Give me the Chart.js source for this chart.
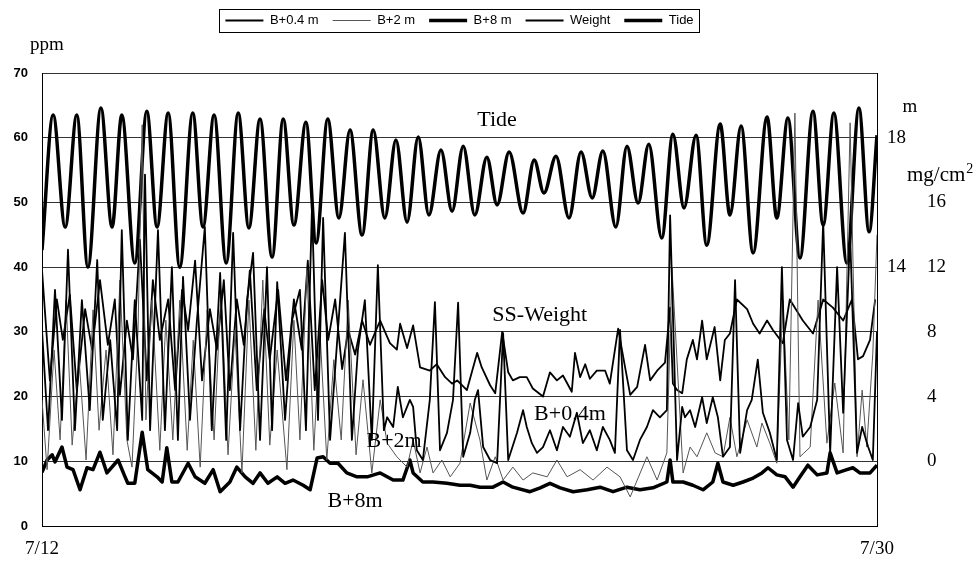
<!DOCTYPE html>
<html>
<head>
<meta charset="utf-8">
<script src="https://cdn.jsdelivr.net/npm/chart.js@4.4.1/dist/chart.umd.min.js"></script>
<style>
  html, body { margin: 0; padding: 0; background: #fff; }
</style>
</head>
<body>
<canvas id="chart" width="980" height="565"></canvas>
<script>
// x values are days after 7/12 00:00
const tideDay = [0,0.24,0.50,0.75,0.99,1.27,1.51,1.72,2.00,2.26,2.48,2.72,2.97,3.25,3.47,3.71,3.97,4.23,4.46,4.70,4.96,5.20,5.43,5.69,5.91,6.16,6.40,6.64,6.90,7.14,7.39,7.63,7.87,8.11,8.34,8.60,8.84,9.08,9.33,9.59,9.81,10.07,10.37,10.61,10.82,11.08,11.36,11.62,11.86,12.09,12.37,12.61,12.85,13.08,13.36,13.60,13.84,14.10,14.33,14.62,14.83,15.07,15.33,15.63,15.84,16.08,16.34,16.62,16.84,17.07,17.35,17.61,17.83,18.00];
const tideM = [14.53,18.70,15.24,18.70,14.00,18.92,15.24,18.70,14.13,18.82,15.24,18.76,14.00,18.76,15.24,18.70,14.13,18.76,15.21,18.58,14.31,18.58,15.30,18.48,14.75,18.58,15.52,18.24,14.99,18.24,15.52,17.93,15.39,18.02,15.61,17.62,15.73,17.74,15.61,17.40,15.92,17.56,15.67,17.31,16.29,17.43,15.52,17.56,16.14,17.59,15.24,17.74,15.98,17.80,14.90,18.11,15.83,18.08,14.68,18.42,15.61,18.36,14.44,18.64,15.52,18.61,14.28,18.82,15.30,18.76,14.13,18.92,15.09,18.08];

const b8Day = [0.00,0.11,0.22,0.28,0.43,0.54,0.67,0.82,0.97,1.10,1.25,1.40,1.64,1.79,1.85,2.00,2.16,2.28,2.48,2.59,2.69,2.80,2.93,3.15,3.30,3.51,3.69,3.84,4.05,4.20,4.38,4.55,4.70,4.87,5.07,5.24,5.41,5.63,5.78,5.93,6.06,6.21,6.38,6.57,6.79,7.01,7.29,7.57,7.78,7.93,8.00,8.21,8.43,8.73,9.01,9.23,9.44,9.72,9.94,10.15,10.52,10.74,10.95,11.17,11.45,11.75,12.03,12.31,12.61,12.89,13.17,13.47,13.54,13.60,13.82,14.03,14.25,14.46,14.57,14.68,14.90,15.11,15.33,15.52,15.65,15.84,16.02,16.19,16.34,16.51,16.71,16.92,16.99,17.14,17.35,17.48,17.63,17.85,18.00];
const b8Ppm = [8.3,10.2,11.0,9.9,12.2,9.1,8.7,5.6,9.0,8.7,11.4,8.2,10.2,7.6,6.6,6.6,14.5,8.7,7.6,6.8,12.1,6.8,6.8,9.7,7.6,6.6,8.7,5.3,6.8,9.1,7.6,6.6,8.2,6.6,7.6,6.6,7.1,6.3,5.6,10.5,10.7,9.7,9.7,8.2,7.6,7.6,8.2,7.1,7.1,10.2,8.2,6.8,6.8,6.6,6.3,6.3,6.0,6.0,6.8,6.0,5.3,5.9,6.6,5.9,5.3,5.6,6.0,5.3,6.0,5.6,5.9,6.8,10.2,6.8,6.8,6.3,5.6,6.8,9.7,6.8,6.3,6.8,7.4,8.2,9.0,7.9,7.6,6.0,7.6,9.4,7.9,8.2,11.3,8.2,8.7,9.0,8.2,8.2,9.4];

const b04Day = [0.00,0.13,0.28,0.43,0.56,0.71,0.86,1.03,1.19,1.31,1.47,1.62,1.72,1.85,2.00,2.16,2.22,2.33,2.50,2.65,2.80,2.93,3.04,3.19,3.34,3.51,3.66,3.84,3.97,4.12,4.27,4.42,4.55,4.70,4.85,4.96,5.07,5.24,5.39,5.56,5.69,5.82,5.95,6.06,6.21,6.38,6.53,6.68,6.81,6.96,7.11,7.24,7.37,
  7.44,7.57,7.67,7.78,7.93,8.00,8.08,8.21,8.36,8.47,8.58,8.73,8.86,8.97,9.08,9.23,9.33,9.40,9.51,9.66,9.81,9.94,10.05,10.24,10.37,10.45,10.56,10.67,10.80,10.95,11.10,11.23,11.38,11.53,11.66,11.81,11.96,12.09,12.24,12.35,12.46,12.61,12.74,12.89,13.04,13.17,13.32,13.47,13.54,
  13.69,13.80,13.86,13.97,14.08,14.23,14.33,14.46,14.57,14.68,14.83,14.94,15.05,15.20,15.30,15.43,15.54,15.69,15.84,15.95,16.06,16.19,16.30,16.40,16.56,16.71,16.84,16.99,17.14,17.27,17.42,17.57,17.68,17.81,17.91,18.00];
const b04Ppm = [30.3,14.8,36.5,16.4,42.7,14.8,34.9,17.9,41.1,16.4,28.7,14.8,45.7,13.3,34.9,16.4,54.3,14.8,45.7,14.8,40.0,13.3,38.5,16.4,31.8,46.2,14.8,39.1,13.3,45.3,14.8,34.9,42.2,13.3,40.0,14.8,37.7,16.4,31.8,36.5,14.8,49.3,16.4,47.6,13.3,30.3,45.3,13.3,27.2,34.9,13.3,40.3,14.8,
  16.8,15.3,21.5,16.8,19.5,18.4,11.7,10.2,19.5,34.6,11.7,14.4,19.5,34.5,10.7,14.4,19.5,21.0,12.2,10.2,9.7,29.8,10.2,14.4,17.9,15.3,12.8,11.3,12.2,14.8,11.7,15.3,13.8,17.5,12.8,14.8,11.7,15.3,13.3,11.3,30.3,11.7,10.2,13.3,15.3,17.9,16.8,17.9,48.0,
  10.2,18.4,16.8,17.9,15.3,19.9,15.9,19.9,16.8,10.7,12.2,38.0,11.3,17.9,19.5,25.7,17.5,14.4,10.2,40.0,13.3,10.2,19.0,13.8,15.3,19.5,47.0,11.3,40.0,17.5,45.0,11.3,15.3,12.2,10.2,30.0];

const b2Day = [0.00,0.11,0.26,0.39,0.52,0.65,0.80,0.95,1.10,1.23,1.38,1.53,1.68,1.83,1.94,2.07,2.16,2.24,2.37,2.54,2.67,2.82,2.97,3.13,3.26,3.41,3.56,3.71,3.86,4.01,4.16,4.31,4.46,4.61,4.76,4.91,5.07,5.28,5.43,5.56,5.71,5.86,5.99,6.14,6.29,6.45,6.60,6.77,6.92,7.11,7.29,
  7.44,7.65,7.87,8.00,8.15,8.30,8.43,8.62,8.80,9.01,9.23,9.44,9.59,9.77,9.94,10.15,10.37,10.58,10.89,11.10,11.32,11.60,11.88,12.18,12.46,12.68,13.04,13.26,13.47,13.58,
  13.82,13.97,14.12,14.33,14.51,14.68,14.83,14.98,15.20,15.41,15.52,15.69,15.84,15.97,16.10,16.23,16.34,16.56,16.73,16.92,17.09,17.27,17.42,17.57,17.68,17.78,17.91,18.00];
const b2Ppm = [19.5,8.7,27.2,13.3,34.9,12.5,25.7,10.2,33.4,14.8,27.2,11.0,38.0,13.3,9.1,30.3,62.0,16.4,34.9,11.7,31.8,13.3,34.9,11.7,28.7,9.1,33.4,13.3,36.5,11.0,30.3,8.2,34.9,11.7,38.0,12.5,27.2,8.7,31.8,13.3,39.6,11.7,30.3,10.2,25.7,13.3,34.9,11.0,22.6,8.2,19.5,
  12.8,10.7,9.1,13.3,8.2,12.2,8.2,10.2,7.6,9.7,19.0,13.3,7.1,10.7,7.1,9.1,7.1,8.2,7.6,10.2,7.6,8.7,7.1,9.1,7.6,4.5,10.7,7.1,11.3,40.0,
  8.2,12.2,10.7,14.4,11.3,10.7,16.8,10.7,16.4,12.2,15.9,12.8,9.7,34.9,13.3,63.8,10.7,12.2,34.9,12.8,22.1,11.3,62.3,10.7,21.0,12.2,26.7,45.0];

// SS weight in mg/cm2
const wDay = [0.00,0.17,0.32,0.45,0.60,0.75,0.93,1.08,1.25,1.42,1.57,1.68,1.83,1.96,2.11,2.26,2.39,2.54,2.72,2.87,3.02,3.15,3.30,3.45,3.62,3.77,3.92,4.05,4.20,4.35,4.48,4.63,4.79,4.91,5.09,5.26,5.43,5.60,5.73,5.88,6.04,6.17,6.32,6.47,6.60,6.75,6.90,7.07,7.20,
  7.29,7.50,7.65,7.72,7.87,8.00,8.15,8.36,8.51,8.69,8.84,8.95,9.16,9.38,9.48,9.66,9.77,9.92,10.05,10.15,10.30,10.45,10.58,10.80,10.95,11.10,11.23,11.42,11.49,11.60,11.71,11.81,11.96,12.14,12.24,12.42,12.57,12.68,12.83,13.00,13.11,13.26,13.43,13.54,13.60,
  13.69,13.80,13.90,14.03,14.12,14.23,14.33,14.50,14.62,14.72,14.83,14.98,15.20,15.33,15.47,15.63,15.76,15.97,16.12,16.40,16.62,16.84,17.05,17.27,17.46,17.59,17.70,17.85,17.96];
const wMg = [11.8,5.0,10.0,7.5,10.3,4.4,9.4,6.9,11.2,7.2,10.0,4.1,8.7,6.3,13.7,5.0,11.2,7.5,10.0,4.4,10.6,8.1,12.4,5.0,9.4,6.9,11.2,4.4,10.0,7.2,11.8,4.4,9.4,6.3,10.6,5.0,10.0,6.9,12.4,4.4,11.2,7.5,10.0,5.7,8.1,6.6,8.7,7.2,8.1,
  8.7,7.3,6.9,8.5,7.0,8.4,5.8,5.6,6.0,5.2,4.8,5.0,4.4,6.7,5.8,4.7,4.2,8.0,5.5,5.0,5.2,5.2,4.5,4.0,5.5,5.0,5.3,4.3,6.7,5.2,6.0,5.1,5.6,5.6,4.8,8.2,5.8,4.1,4.6,7.2,5.0,5.6,6.1,9.5,4.8,
  4.4,4.2,6.3,7.5,6.3,8.7,6.3,8.3,5.0,7.5,7.9,10.0,9.4,8.5,7.9,8.7,8.1,7.3,10.0,8.7,7.9,10.0,9.5,8.7,10.0,6.3,6.5,7.5,10.0];

const seriesNames = ['B+0.4 m', 'B+2 m', 'B+8 m', 'Weight', 'Tide'];
const xTickValues = [0, 18];
const xTickLabels = ['7/12', '7/30'];
const ppmTicks = [0, 10, 20, 30, 40, 50, 60, 70];
const tideTicks = [14, 18];
const weightTicks = [0, 4, 8, 12, 16];

// curve labels inside the plot (day, ppm)
const noteTexts = ['Tide', 'SS-Weight', 'B+0.4m', 'B+2m', 'B+8m'];
const noteDays = [9.81, 10.73, 11.38, 7.59, 6.75];
const notePpm = [62.7, 32.5, 17.2, 13.1, 3.9];

const serif = "'Liberation Serif', 'DejaVu Serif', serif";
const sans = "'Liberation Sans', Arial, sans-serif";

function toPoints(xs, ys) {
    return xs.map((x, i) => ({ x: x, y: ys[i] }));
}

// Text labels, axis units and the legend frame
const notesPlugin = {
    id: 'notes',
    afterDraw(chart) {
        const { ctx, chartArea, scales } = chart;
        ctx.save();
        ctx.fillStyle = '#000';
        ctx.textBaseline = 'middle';
        ctx.textAlign = 'center';
        ctx.font = '22px ' + serif;
        noteTexts.forEach((t, i) => {
            ctx.fillText(t, scales.x.getPixelForValue(noteDays[i]), scales.y.getPixelForValue(notePpm[i]));
        });

        ctx.font = '19px ' + serif;
        ctx.fillText('ppm', chartArea.left + 5, chartArea.top - 28);
        ctx.fillText('m', scales.yTide.left + 33, scales.yTide.getPixelForValue(18) - 31);

        ctx.textAlign = 'left';
        ctx.font = '21px ' + serif;
        const mx = scales.yW.left - 18;
        const my = scales.yW.getPixelForValue(16) - 27;
        ctx.fillText('mg/cm', mx, my);
        const w = ctx.measureText('mg/cm').width;
        ctx.font = '14px ' + serif;
        ctx.fillText('2', mx + w + 1, my - 6);

        // frame round the legend
        const boxes = chart.legend.legendHitBoxes;
        if (boxes && boxes.length) {
            const left = Math.min(...boxes.map(b => b.left)) - 6;
            const right = Math.max(...boxes.map(b => b.left + b.width)) + 6;
            const top = Math.min(...boxes.map(b => b.top)) - 5;
            const bottom = Math.max(...boxes.map(b => b.top + b.height)) + 5;
            ctx.strokeStyle = '#000';
            ctx.lineWidth = 1;
            ctx.strokeRect(Math.round(left) + 0.5, Math.round(top) + 0.5, Math.round(right - left), Math.round(bottom - top));
        }
        ctx.restore();
    }
};

new Chart(document.getElementById('chart'), {
    type: 'line',
    data: {
        datasets: [
            { label: seriesNames[0], data: toPoints(b04Day, b04Ppm), yAxisID: 'y', borderColor: '#000', borderWidth: 1.8 },
            { label: seriesNames[1], data: toPoints(b2Day, b2Ppm), yAxisID: 'y', borderColor: '#555', borderWidth: 1 },
            { label: seriesNames[2], data: toPoints(b8Day, b8Ppm), yAxisID: 'y', borderColor: '#000', borderWidth: 3.5 },
            { label: seriesNames[3], data: toPoints(wDay, wMg), yAxisID: 'yW', borderColor: '#000', borderWidth: 1.8 },
            { label: seriesNames[4], data: toPoints(tideDay, tideM), yAxisID: 'yTide', borderColor: '#000', borderWidth: 3.5, cubicInterpolationMode: 'monotone' }
        ]
    },
    options: {
        responsive: false,
        animation: false,
        devicePixelRatio: 1,
        events: [],
        layout: { padding: 0 },
        elements: {
            point: { radius: 0 },
            line: { tension: 0, borderJoinStyle: 'round', fill: false }
        },
        plugins: {
            tooltip: { enabled: false },
            legend: {
                position: 'top',
                fullSize: false,
                weight: 3000,
                labels: {
                    usePointStyle: true,
                    pointStyle: 'line',
                    pointStyleWidth: 38,
                    padding: 14,
                    color: '#000',
                    font: { family: sans, size: 13 }
                }
            },
            // empty title used as a spacer between legend and plot
            title: {
                display: true,
                text: '',
                font: { size: 10, lineHeight: 1 },
                padding: { top: 0, bottom: 26 }
            }
        },
        scales: {
            x: {
                type: 'linear',
                min: 0,
                max: 18,
                afterBuildTicks: s => { s.ticks = xTickValues.map(v => ({ value: v })); },
                grid: { display: false, drawTicks: false },
                border: { display: true, color: '#000', width: 1 },
                ticks: {
                    autoSkip: false,
                    maxRotation: 0,
                    padding: 12,
                    color: '#000',
                    font: { family: serif, size: 19 },
                    callback: (v, i) => xTickLabels[i]
                },
                afterFit: s => { s.height = 39; }
            },
            y: {
                position: 'left',
                min: 0,
                max: 70,
                afterBuildTicks: s => { s.ticks = ppmTicks.map(v => ({ value: v })); },
                grid: { color: '#333', lineWidth: 1, drawTicks: false },
                border: { display: true, color: '#000', width: 1 },
                ticks: { padding: 14, color: '#000', font: { family: sans, size: 13, weight: 'bold' } },
                afterFit: s => { s.width = 42; }
            },
            yTide: {
                position: 'right',
                weight: 0,
                min: 6,
                max: 20,
                afterBuildTicks: s => { s.ticks = tideTicks.map(v => ({ value: v })); },
                grid: { display: false, drawTicks: false },
                border: { display: true, color: '#000', width: 1 },
                ticks: { padding: 10, color: '#000', font: { family: serif, size: 19 } },
                afterFit: s => { s.width = 48; }
            },
            yW: {
                position: 'right',
                weight: 1,
                min: -4,
                max: 24,
                afterBuildTicks: s => { s.ticks = weightTicks.map(v => ({ value: v })); },
                grid: { display: false, drawTicks: false },
                border: { display: false },
                ticks: { padding: 2, color: '#000', font: { family: serif, size: 19 } },
                afterFit: s => { s.width = 55; }
            }
        }
    },
    plugins: [notesPlugin]
});
</script>
</body>
</html>
